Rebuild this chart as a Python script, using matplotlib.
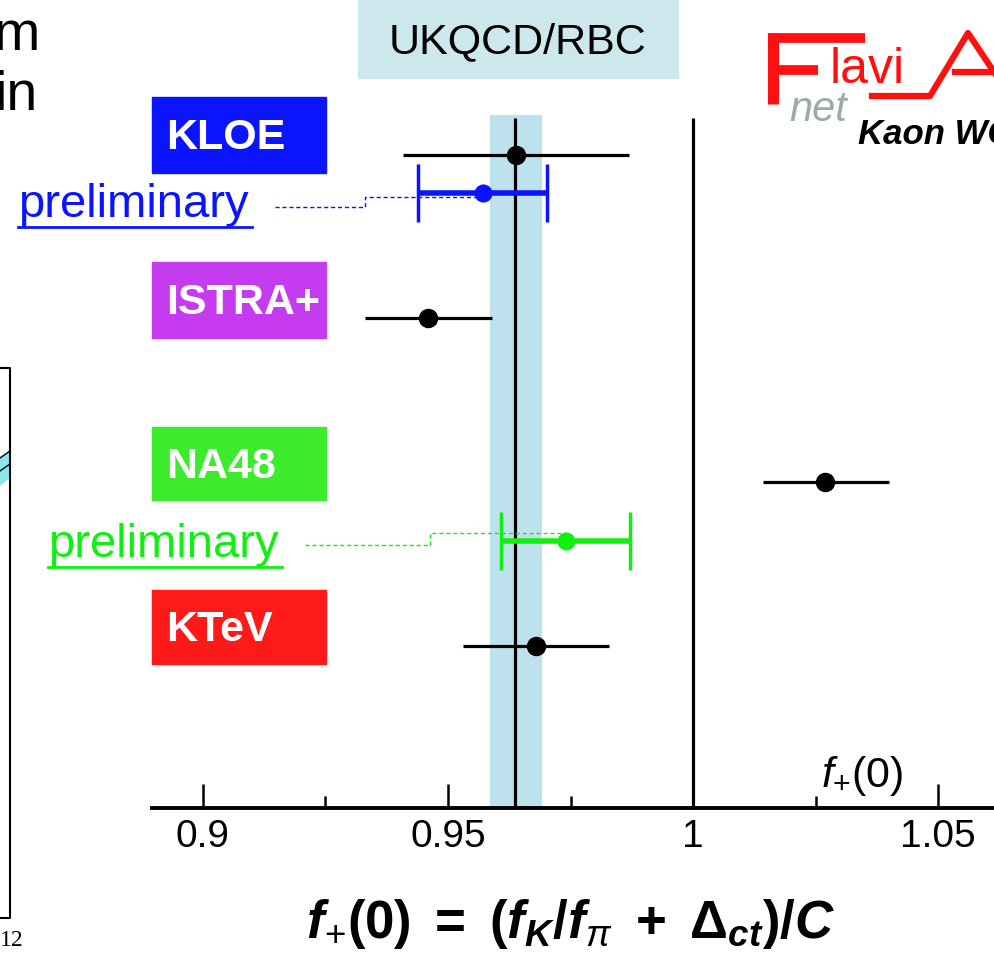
import numpy as np
import matplotlib
matplotlib.use("Agg")
import matplotlib.pyplot as plt
from matplotlib.patches import Rectangle, Polygon
from matplotlib.lines import Line2D

plt.rcParams["font.family"] = ["Liberation Sans", "DejaVu Sans"]
plt.rcParams["mathtext.fontset"] = "custom"
plt.rcParams["mathtext.rm"] = "Liberation Sans"
plt.rcParams["mathtext.it"] = "Liberation Sans:italic"
plt.rcParams["mathtext.bf"] = "Liberation Sans:bold"
plt.rcParams["mathtext.sf"] = "Liberation Sans:bold:italic"

# ============================================================
# DATA  (f+(0) measurements, read off the picture)
# ============================================================
experiments = ["KLOE", "KLOE prelim.", "ISTRA+", "NA48", "NA48 prelim.", "KTeV"]
central = [0.9639, 0.9571, 0.9459, 1.0269, 0.9741, 0.9680]
err_lo = [0.0231, 0.0132, 0.0128, 0.0126, 0.0133, 0.0149]
err_hi = [0.0230, 0.0131, 0.0131, 0.0131, 0.0130, 0.0149]
preliminary = [False, True, False, False, True, False]

lattice_value = 0.9637          # UKQCD/RBC
lattice_band = (0.9586, 0.9692)
unitarity = 1.0

major_ticks = [0.9, 0.95, 1.0, 1.05]
major_labels = ["0.9", "0.95", "1", "1.05"]
minor_ticks = [0.925, 0.975, 1.025]

# ============================================================
# LAYOUT (pixel helpers)
# ============================================================
W, H = 994, 965
def fx(px):
    return px / W
def fy(py):
    return 1 - py / H

def fig_line(xs, ys, **kw):
    fig.lines.append(Line2D([fx(v) for v in xs], [fy(v) for v in ys],
                            transform=fig.transFigure, **kw))

row_y = [155, 193, 318, 482, 541, 646]
point_colors = ["black", "#0a14ff", "black", "black", "#11ee11", "black"]

fig = plt.figure(figsize=(W / 100, H / 100), dpi=100)

# main axes: x in data units, y in pixel rows (top = 0)
ax = fig.add_axes([fx(152), fy(808), fx(994) - fx(152), fy(0) - fy(808)])
ax.set_xlim(0.8896, 1.0614)
ax.set_ylim(808, 0)
ax.patch.set_alpha(0)
for s in ["top", "left", "right"]:
    ax.spines[s].set_visible(False)
ax.spines["bottom"].set_linewidth(2.8)
ax.set_yticks([])
ax.set_xticks(major_ticks)
ax.set_xticklabels(major_labels, fontsize=28)
ax.set_xticks(minor_ticks, minor=True)
ax.tick_params(axis="x", which="major", direction="in", length=17, width=1.8, pad=8)
ax.tick_params(axis="x", which="minor", direction="in", length=9, width=1.8)

def px2x(px):
    lo, hi = ax.get_xlim()
    return lo + (px - 152) / (994 - 152) * (hi - lo)

# lattice band and lines
ax.fill_betweenx([115, 808], lattice_band[0], lattice_band[1], color="#bee1ee", lw=0, zorder=1)
ax.vlines(lattice_value, 118, 808, color="black", lw=2.3, zorder=2)
ax.vlines(unitarity, 118, 808, color="black", lw=2.3, zorder=2)

# measurements
for i in range(len(experiments)):
    if preliminary[i]:
        ax.errorbar(central[i], row_y[i], xerr=[[err_lo[i]], [err_hi[i]]], fmt="o",
                    color=point_colors[i], ms=12, elinewidth=4, capsize=21,
                    capthick=2.5, zorder=4)
    else:
        ax.errorbar(central[i], row_y[i], xerr=[[err_lo[i]], [err_hi[i]]], fmt="o",
                    color=point_colors[i], ms=13, elinewidth=2.3, capsize=0, zorder=4)

# dashed leader lines from "preliminary" labels
ax.plot([px2x(275), px2x(365), px2x(365), central[1]], [207, 207, 197, 197],
        color="#0a14ff", lw=1, ls=(0, (3, 2)), clip_on=False, zorder=3)
ax.plot([px2x(305), px2x(430), px2x(430), central[4]], [545, 545, 533, 533],
        color="#11ee11", lw=1, ls=(0, (3, 2)), clip_on=False, zorder=3)

ax.text(px2x(821), 776, r"$f_{+}\mathrm{(0)}$", fontsize=31, ha="left", va="center")

# experiment label boxes
boxes = [("KLOE", 97, 173, "#0a14ff"), ("ISTRA+", 262, 338, "#c53cf0"),
         ("NA48", 427, 500, "#3cec2c"), ("KTeV", 590, 664, "#ff1a1a")]
for name, y0, y1, c in boxes:
    fig.patches.append(Rectangle((fx(152), fy(y1)), fx(326) - fx(152), fy(y0) - fy(y1),
                                 transform=fig.transFigure, color=c, zorder=0))
    fig.text(fx(166), fy((y0 + y1) / 2 + 3), name, color="white", fontsize=31,
             fontweight="bold", ha="left", va="center")

# "preliminary" labels, underlined
for txt_x, txt_y, c in [(18, 205, "#0a14ff"), (48, 545, "#11ee11")]:
    fig.text(fx(txt_x), fy(txt_y), "preliminary", color=c, fontsize=34,
             ha="left", va="center")
    fig_line([txt_x, txt_x + 234], [txt_y + 22, txt_y + 22], color=c, lw=2)

# UKQCD/RBC label
fig.patches.append(Rectangle((fx(358), fy(78)), fx(678) - fx(358), fy(0) - fy(78),
                             transform=fig.transFigure, color="#cce8ec", zorder=0))
fig.text(fx(518), fy(42), "UKQCD/RBC", fontsize=31, ha="center", va="center")

# bottom formula
fig.text(fx(570), fy(924),
         r"$\mathsf{f}_{+}\mathbf{(0)\ =\ (}\mathsf{f}_{\mathsf{K}}\mathbf{/}\mathsf{f}_{\pi}"
         r"\mathbf{\ +\ \Delta}_{\mathsf{ct}}\mathbf{)/}\mathsf{C}$",
         fontsize=38, ha="center", va="center")

# FlaviaNet logo (approximate, drawn with strokes)
red = "#ff1010"
fig_line([773, 773], [33, 104], color=red, lw=8, solid_capstyle="butt")
fig_line([768, 865], [38, 38], color=red, lw=7, solid_capstyle="butt")
fig_line([773, 818], [70, 70], color=red, lw=7, solid_capstyle="butt")
fig.text(fx(830), fy(70), "lavi", color=red, fontsize=36, ha="left", va="center")
fig_line([872, 930, 968, 1010], [96, 96, 33, 96], color=red, lw=4.5)
fig_line([955, 995], [72, 72], color=red, lw=4.5)
fig.text(fx(789), fy(110), "net", color="#9aabab", fontsize=30, style="italic",
         ha="left", va="center")
fig.text(fx(858), fy(134), "Kaon WG", color="black", fontsize=25, style="italic",
         fontweight="bold", ha="left", va="center")

# cut-off slide text and neighbouring plot at the left edge
fig.text(fx(40), fy(50), "m", fontsize=40, ha="right", va="baseline")
fig.text(fx(38), fy(110), "in", fontsize=40, ha="right", va="baseline")
fig_line([0, 10, 10, 0], [368, 368, 918, 918], color="black", lw=1.5)
fig.patches.append(Polygon([(0, fy(458)), (fx(10), fy(451)), (fx(10), fy(478)), (0, fy(486))],
                           closed=True, transform=fig.transFigure,
                           facecolor="#8ee6ee", edgecolor="none"))
fig_line([0, 10], [458, 451], color="black", lw=1)
fig_line([0, 10], [471, 464], color="black", lw=1)
fig.text(0, fy(940), "12", fontsize=17, family="Liberation Serif", ha="left", va="center")

fig.savefig("out.png", dpi=100)
